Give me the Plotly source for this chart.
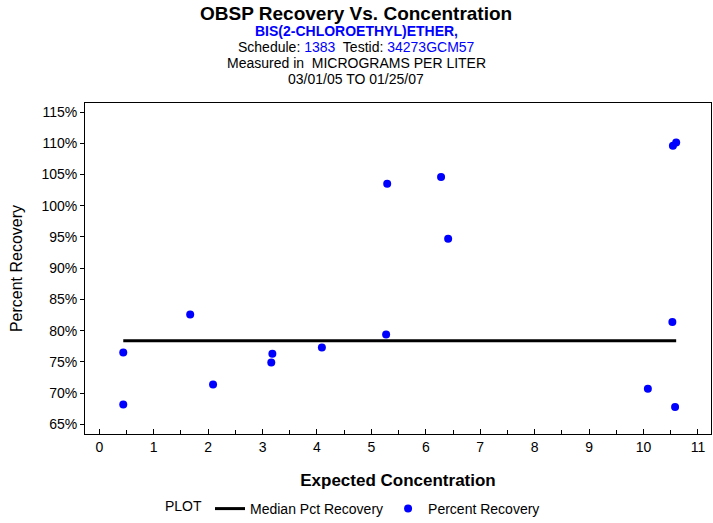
import plotly.graph_objects as go

# Data
conc = [0.44, 0.44, 1.67, 2.09, 3.16, 3.18, 4.09, 5.27, 5.29, 6.28, 6.41,
        10.53, 10.08, 10.58, 10.54, 10.60]
pct = [76.5, 68.2, 82.6, 71.4, 74.9, 76.3, 77.3, 79.4, 103.5, 104.6, 94.7,
       81.4, 70.7, 67.8, 109.6, 110.1]
median_pct = 78.4
x_ticks = list(range(0, 12))
y_ticks = list(range(65, 120, 5))
y_tick_labels = [f"{v}%" for v in y_ticks]

FONT = "Liberation Sans, Arial, sans-serif"

fig = go.Figure()
fig.add_trace(go.Scatter(
    x=[min(conc), max(conc)], y=[median_pct, median_pct],
    mode="lines", line=dict(color="black", width=3),
    name="Median Pct Recovery"))
fig.add_trace(go.Scatter(
    x=conc, y=pct, mode="markers",
    marker=dict(color="#0000ff", size=8, symbol="circle"),
    name="Percent Recovery"))

fig.update_layout(
    width=713, height=523,
    margin=dict(l=85, r=2, t=103, b=89, autoexpand=False),
    plot_bgcolor="white", paper_bgcolor="white",
    font=dict(family=FONT, size=14, color="black"),
    showlegend=True,
    legend=dict(orientation="h", x=(163 - 85) / 626.0, xanchor="left",
                y=(434 - 509) / 331.0, yanchor="middle",
                title=dict(text="PLOT", font=dict(size=14)),
                font=dict(size=14), itemwidth=30, tracegroupgap=0),
)

fig.update_xaxes(
    range=[-0.263, 11.24], tickmode="array", tickvals=x_ticks,
    ticks="inside", ticklen=5, tickcolor="black", tickwidth=1,
    minor=dict(dtick=0.5, ticks="inside", ticklen=4, tickcolor="black"),
    showline=True, linecolor="black", linewidth=1, mirror=True,
    showgrid=False, zeroline=False, automargin=False,
    tickfont=dict(size=14),
    title=dict(text="<b>Expected Concentration</b>", font=dict(size=17), standoff=20),
)
fig.update_yaxes(
    range=[63.46, 116.44], tickmode="array", tickvals=y_ticks, ticktext=y_tick_labels,
    ticks="outside", ticklen=4, tickcolor="black", tickwidth=1,
    showline=True, linecolor="black", linewidth=1, mirror=True,
    showgrid=False, zeroline=False, automargin=False,
    tickfont=dict(size=14),
    title=dict(text="Percent Recovery", font=dict(size=16), standoff=14),
)

def ypaper(p):
    return (434 - p) / 331.0

title_lines = [
    ("<b>OBSP Recovery Vs. Concentration</b>", 13, 19),
    ("<b><span style='color:#0000ff'>BIS(2-CHLOROETHYL)ETHER,</span></b>", 31, 14),
    ("Schedule: <span style='color:#0000ff'>1383</span>  Testid: <span style='color:#0000ff'>34273GCM57</span>", 47, 14),
    ("Measured in  MICROGRAMS PER LITER", 63, 14),
    ("03/01/05 TO 01/25/07", 79, 14),
]
for text, py, size in title_lines:
    fig.add_annotation(text=text, xref="paper", yref="paper",
                       x=(356 - 85) / 626.0, y=ypaper(py), xanchor="center", yanchor="middle",
                       showarrow=False, font=dict(size=size, color="black"))

fig.write_html("out.html", config={"displayModeBar": False},
               post_script="document.body.style.margin='0';document.body.style.overflow='hidden';")
